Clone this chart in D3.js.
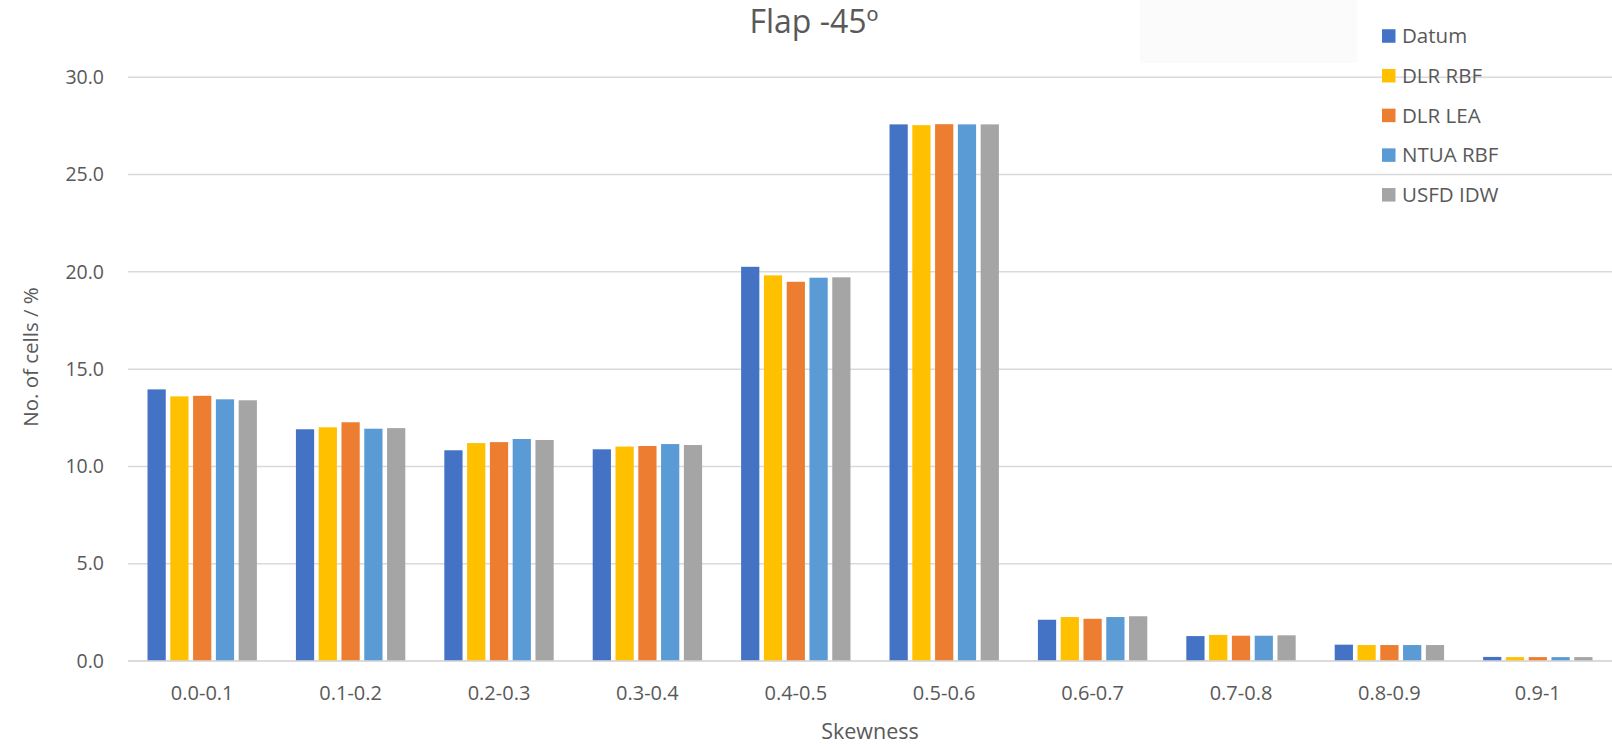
<!DOCTYPE html>
<html>
<head>
<meta charset="utf-8">
<script src="https://cdn.jsdelivr.net/npm/d3@7"></script>
<style>
  html, body { margin: 0; padding: 0; background: #fff; }
  svg { display: block; font-family: "Open Sans", sans-serif; }
</style>
</head>
<body>
<svg id="chart" width="1612" height="744"></svg>
<script>
const categories = ["0.0-0.1","0.1-0.2","0.2-0.3","0.3-0.4","0.4-0.5","0.5-0.6","0.6-0.7","0.7-0.8","0.8-0.9","0.9-1"];
const seriesNames = ["Datum","DLR RBF","DLR LEA","NTUA RBF","USFD IDW"];
const datum   = [13.96, 11.91, 10.83, 10.88, 20.26, 27.58, 2.12, 1.28, 0.84, 0.21];
const dlrRbf  = [13.60, 12.01, 11.20, 11.02, 19.82, 27.54, 2.26, 1.34, 0.82, 0.20];
const dlrLea  = [13.63, 12.27, 11.25, 11.05, 19.49, 27.59, 2.17, 1.30, 0.82, 0.20];
const ntuaRbf = [13.45, 11.94, 11.41, 11.15, 19.70, 27.58, 2.26, 1.30, 0.82, 0.20];
const usfdIdw = [13.40, 11.97, 11.36, 11.10, 19.72, 27.58, 2.30, 1.32, 0.82, 0.20];
const yTicks = [0, 5, 10, 15, 20, 25, 30];
const colors = ["#4472C4", "#FFC000", "#ED7D31", "#5B9BD5", "#A5A5A5"];

const seriesValues = [datum, dlrRbf, dlrLea, ntuaRbf, usfdIdw];

const svg = d3.select("#chart");
const textColor = "#595959";
const plotLeft = 128, plotRight = 1612, plotTop = 77.3, plotBottom = 661;

// faint legend shadow box
svg.append("rect").attr("x", 1140).attr("y", 0).attr("width", 217).attr("height", 63)
  .attr("fill", "#fbfbfb");

const x0 = d3.scaleBand().domain(categories).range([plotLeft, plotRight])
  .paddingInner(0.263).paddingOuter(0.1315);
const x1 = d3.scaleBand().domain(seriesNames).range([0, x0.bandwidth()]).paddingInner(0.2);
const y = d3.scaleLinear().domain([0, 30]).range([plotBottom, plotTop]);

// gridlines
svg.append("g").selectAll("line").data(yTicks).join("line")
  .attr("x1", plotLeft).attr("x2", plotRight)
  .attr("y1", d => y(d)).attr("y2", d => y(d))
  .attr("stroke", "#d9d9d9").attr("stroke-width", 1.5);

// y tick labels
const yAxis = d3.axisLeft(y).tickValues(yTicks).tickFormat(d3.format(".1f")).tickSize(0).tickPadding(0);
const gy = svg.append("g").attr("transform", `translate(104,0)`).call(yAxis);
gy.select(".domain").remove();
gy.selectAll("text").attr("fill", textColor).style("font-size", "19.5px").style("font-family", "Open Sans");

// bars
const groups = svg.append("g").selectAll("g").data(categories).join("g")
  .attr("transform", d => `translate(${x0(d)},0)`);
groups.selectAll("rect").data((c, i) => seriesNames.map((s, k) => ({s, k, v: seriesValues[k][i]})))
  .join("rect")
  .attr("x", d => x1(d.s))
  .attr("width", x1.bandwidth())
  .attr("y", d => y(d.v))
  .attr("height", d => y(0) - y(d.v))
  .attr("fill", d => colors[d.k]);

// baseline
svg.append("line").attr("x1", plotLeft).attr("x2", plotRight).attr("y1", y(0)).attr("y2", y(0))
  .attr("stroke", "#d9d9d9").attr("stroke-width", 1.5);

// x tick labels
const xAxis = d3.axisBottom(x0).tickSize(0).tickPadding(0);
const gx = svg.append("g").attr("transform", `translate(0,${plotBottom + 25})`).call(xAxis);
gx.select(".domain").remove();
gx.selectAll("text").attr("fill", textColor).style("font-size", "20px").style("font-family", "Open Sans");

// title
svg.append("text").attr("x", 814).attr("y", 33).attr("text-anchor", "middle")
  .attr("fill", textColor).style("font-size", "32px").text("Flap -45º");

// axis titles
svg.append("text").attr("x", 870).attr("y", 739).attr("text-anchor", "middle")
  .attr("fill", textColor).style("font-size", "21.5px").text("Skewness");
svg.append("text").attr("transform", "translate(38,357) rotate(-90)").attr("text-anchor", "middle")
  .attr("fill", textColor).style("font-size", "20.5px").text("No. of cells / %");

// legend
const legend = svg.append("g").selectAll("g").data(seriesNames).join("g")
  .attr("transform", (d, i) => `translate(1382,${36 + i * 39.7})`);
legend.append("rect").attr("x", 0).attr("y", -6.75).attr("width", 13.5).attr("height", 13.5)
  .attr("fill", (d, i) => colors[i]);
legend.append("text").attr("x", 20).attr("y", 0).attr("dy", "0.35em")
  .attr("fill", textColor).style("font-size", "20.5px").text(d => d);
</script>
</body>
</html>
